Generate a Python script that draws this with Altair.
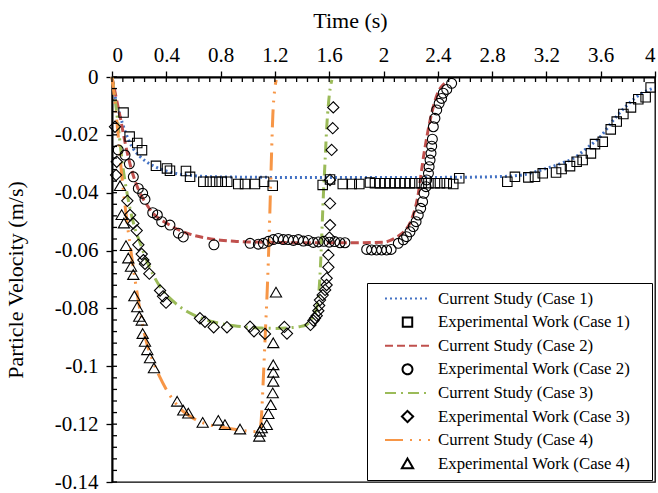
import altair as alt
import pandas as pd

names = [
    "Current Study (Case 1)", "Experimental Work (Case 1)",
    "Current Study (Case 2)", "Experimental Work (Case 2)",
    "Current Study (Case 3)", "Experimental Work (Case 3)",
    "Current Study (Case 4)", "Experimental Work (Case 4)",
]

# ---- Current study (simulation) curves ----
t_cs1 = [0, 0.02, 0.05, 0.1, 0.15, 0.2, 0.25, 0.3, 0.4, 0.5, 0.6, 0.7, 0.9, 1.2, 1.6, 2.0, 2.4,
         2.8, 3.0, 3.1, 3.2, 3.3, 3.4, 3.5, 3.6, 3.7, 3.8, 3.9, 4.0]
v_cs1 = [0, -0.006, -0.0118, -0.0192, -0.0243, -0.0272, -0.0292, -0.0306, -0.0325, -0.0336, -0.0341,
         -0.0344, -0.0346, -0.0347, -0.0347, -0.0347, -0.0347, -0.0345, -0.034, -0.033, -0.0316,
         -0.030, -0.0281, -0.0245, -0.0205, -0.0145, -0.0095, -0.0057, -0.0037]

t_cs2 = [0, 0.03, 0.06, 0.1, 0.15, 0.2, 0.25, 0.3, 0.4, 0.5, 0.6, 0.7, 0.8, 0.9, 1.0, 1.2, 1.5,
         1.8, 2.0, 2.05, 2.1, 2.15, 2.2, 2.25, 2.3, 2.35, 2.4, 2.45]
v_cs2 = [0, -0.007, -0.0138, -0.0235, -0.033, -0.0395, -0.0437, -0.047, -0.0505, -0.053, -0.0547,
         -0.0557, -0.0564, -0.0568, -0.057, -0.0572, -0.0573, -0.0573, -0.0571, -0.0565, -0.0552,
         -0.0535, -0.050, -0.042, -0.026, -0.0135, -0.0055, -0.0022]

t_cs3 = [0, 0.02, 0.04, 0.08, 0.12, 0.17, 0.2, 0.26, 0.35, 0.45, 0.55, 0.65, 0.75, 0.9, 1.0, 1.1,
         1.2, 1.3, 1.38, 1.43, 1.47, 1.5, 1.52, 1.535, 1.545, 1.557, 1.57, 1.582, 1.595, 1.607, 1.62]
v_cs3 = [0, -0.0065, -0.0145, -0.031, -0.0425, -0.0525, -0.0565, -0.064, -0.0722, -0.0775, -0.081,
         -0.0832, -0.0847, -0.086, -0.0865, -0.0868, -0.0869, -0.0867, -0.0863, -0.0857, -0.0838,
         -0.081, -0.0765, -0.066, -0.055, -0.041, -0.0287, -0.0172, -0.009, -0.004, -0.001]

t_cs4 = [0, 0.02, 0.045, 0.07, 0.1, 0.13, 0.16, 0.2, 0.25, 0.3, 0.35, 0.4, 0.5, 0.6, 0.7, 0.8, 0.9,
         1.0, 1.07, 1.09, 1.1, 1.115, 1.13, 1.145, 1.157, 1.167, 1.175, 1.185, 1.197, 1.21]
v_cs4 = [0, -0.008, -0.02, -0.033, -0.046, -0.057, -0.067, -0.079, -0.091, -0.098, -0.1035, -0.108,
         -0.1145, -0.118, -0.12, -0.121, -0.1218, -0.1224, -0.1226, -0.1222, -0.118, -0.104, -0.088,
         -0.072, -0.056, -0.04, -0.027, -0.013, -0.005, -0.001]

# ---- Experimental data ----
t_ex1 = [0.085, 0.13, 0.186, 0.221, 0.324, 0.405, 0.427, 0.545, 0.575, 0.673, 0.722, 0.766, 0.808,
         0.849, 0.93, 0.98, 1.053, 1.12, 1.184, 1.552, 1.606, 1.70, 1.766, 1.822, 1.90, 1.937, 1.974,
         2.011, 2.048, 2.085, 2.122, 2.158, 2.195, 2.232, 2.281, 2.331, 2.379, 2.416, 2.466, 2.514,
         2.558, 2.912, 2.968, 3.067, 3.116, 3.173, 3.271, 3.312, 3.374, 3.423, 3.467, 3.528, 3.558,
         3.615, 3.674, 3.718, 3.767, 3.823, 3.877, 3.931, 3.968]
v_ex1 = [-0.0123, -0.0206, -0.0228, -0.0253, -0.0307, -0.0316, -0.0324, -0.0325, -0.0345, -0.0362,
         -0.0362, -0.0362, -0.0362, -0.0362, -0.037, -0.037, -0.037, -0.0362, -0.0376, -0.0373,
         -0.0354, -0.037, -0.037, -0.037, -0.0365, -0.0367, -0.0367, -0.0367, -0.0367, -0.0367,
         -0.0367, -0.0367, -0.0367, -0.0367, -0.0367, -0.0367, -0.0367, -0.0367, -0.0367, -0.037,
         -0.035, -0.0362, -0.0345, -0.0347, -0.0345, -0.0333, -0.033, -0.0318, -0.0308, -0.0293,
         -0.0287, -0.0264, -0.0232, -0.0224, -0.0181, -0.0154, -0.0128, -0.0105, -0.0077, -0.007,
         -0.0036]

t_ex2 = [0.046, 0.096, 0.128, 0.157, 0.194, 0.226, 0.243, 0.30, 0.334, 0.366, 0.427, 0.489, 0.525,
         0.751, 1.017, 1.078, 1.115, 1.152, 1.188, 1.225, 1.262, 1.299, 1.336, 1.373, 1.41, 1.446,
         1.483, 1.52, 1.56, 1.6, 1.64, 1.68, 1.716, 1.876, 1.912, 1.949, 1.986, 2.023, 2.056, 2.109,
         2.146, 2.17, 2.195, 2.22, 2.24, 2.256, 2.274, 2.288, 2.298, 2.313, 2.318, 2.331, 2.336,
         2.343, 2.35, 2.355, 2.36, 2.367, 2.379, 2.392, 2.41, 2.428, 2.44, 2.466, 2.502]
v_ex2 = [-0.0252, -0.027, -0.030, -0.0345, -0.0385, -0.0402, -0.0423, -0.0469, -0.0477, -0.050,
         -0.0512, -0.054, -0.0553, -0.058, -0.0575, -0.0578, -0.0575, -0.0568, -0.0562, -0.0558,
         -0.0562, -0.0562, -0.0565, -0.0562, -0.0567, -0.0565, -0.0572, -0.057, -0.0568, -0.0571,
         -0.0569, -0.0573, -0.0573, -0.0596, -0.0598, -0.0598, -0.0598, -0.0598, -0.0596, -0.0575,
         -0.0563, -0.0552, -0.0535, -0.0517, -0.050, -0.0477, -0.0454, -0.0431, -0.0402, -0.0379,
         -0.0356, -0.0333, -0.031, -0.0287, -0.0264, -0.0239, -0.0215, -0.0172, -0.0143, -0.0114,
         -0.0091, -0.0074, -0.0056, -0.0043, -0.0022]

t_ex3 = [0.022, 0.035, 0.03, 0.113, 0.133, 0.157, 0.182, 0.194, 0.219, 0.231, 0.243, 0.275, 0.354,
         0.376, 0.398, 0.648, 0.685, 0.749, 0.847, 1.017, 1.046, 1.127, 1.27, 1.289, 1.462, 1.484,
         1.495, 1.508, 1.52, 1.526, 1.532, 1.552, 1.57, 1.581, 1.581, 1.594, 1.594, 1.601, 1.606,
         1.606, 1.606, 1.618, 1.626, 1.63]
v_ex3 = [-0.0172, -0.0293, -0.0339, -0.0428, -0.0477, -0.0506, -0.0531, -0.058, -0.0612, -0.0633,
         -0.0646, -0.068, -0.0738, -0.0758, -0.078, -0.0834, -0.0846, -0.0865, -0.0865, -0.0863,
         -0.0879, -0.0888, -0.0864, -0.0887, -0.0857, -0.0842, -0.0834, -0.0825, -0.0808, -0.079,
         -0.0771, -0.0754, -0.0736, -0.0719, -0.0696, -0.0658, -0.0615, -0.0555, -0.0512, -0.0437,
         -0.0356, -0.0252, -0.0177, -0.0105]

t_ex4 = [0.059, 0.071, 0.088, 0.103, 0.12, 0.14, 0.157, 0.165, 0.186, 0.201, 0.219, 0.226, 0.243,
         0.26, 0.28, 0.309, 0.48, 0.525, 0.562, 0.668, 0.783, 0.832, 0.943, 1.085, 1.09, 1.103, 1.14,
         1.152, 1.169, 1.184, 1.188, 1.188, 1.188, 1.188, 1.208]
v_ex4 = [-0.0377, -0.0477, -0.0506, -0.0584, -0.0627, -0.0656, -0.0684, -0.0758, -0.0796, -0.0829,
         -0.0842, -0.0888, -0.0915, -0.0944, -0.0972, -0.1007, -0.1122, -0.1153, -0.1163, -0.1195,
         -0.1188, -0.1203, -0.1218, -0.1243, -0.1226, -0.1214, -0.1203, -0.1165, -0.1134, -0.1093,
         -0.1053, -0.1022, -0.0996, -0.092, -0.0745]

x_ticks = [0, 0.4, 0.8, 1.2, 1.6, 2, 2.4, 2.8, 3.2, 3.6, 4]
y_ticks = [0, -0.02, -0.04, -0.06, -0.08, -0.1, -0.12, -0.14]

line_df = pd.concat([
    pd.DataFrame({"t": t, "v": v, "series": n})
    for t, v, n in [(t_cs1, v_cs1, names[0]), (t_cs2, v_cs2, names[2]),
                    (t_cs3, v_cs3, names[4]), (t_cs4, v_cs4, names[6])]
])
point_df = pd.concat([
    pd.DataFrame({"t": t, "v": v, "series": n})
    for t, v, n in [(t_ex1, v_ex1, names[1]), (t_ex2, v_ex2, names[3]),
                    (t_ex3, v_ex3, names[5]), (t_ex4, v_ex4, names[7])]
])

minor_x = pd.DataFrame({"t": [round(i * 0.08, 2) for i in range(51)]})
minor_y = pd.DataFrame({"v": [round(-i * 0.004, 3) for i in range(36)]})

colors = ["#4472C4", "black", "#C0504D", "black", "#9BBB59", "black", "#F79646", "black"]
LINE = "M-1,0H1"
SQUARE = "M-0.21,-0.21H0.21V0.21H-0.21Z"
CIRCLE = "M0.22,0A0.22,0.22,0,1,1,-0.22,0A0.22,0.22,0,1,1,0.22,0Z"
DIAMOND = "M0,-0.25L0.25,0L0,0.25L-0.25,0Z"
TRIANGLE = "M0,-0.23L0.25,0.2L-0.25,0.2Z"
shapes = [LINE, SQUARE, LINE, CIRCLE, LINE, DIAMOND, LINE, TRIANGLE]
dashes = [[2, 3], [1, 0], [8, 4], [1, 0], [11, 5, 2, 5], [1, 0], [18, 7, 2, 7, 2, 7], [1, 0]]

FONT = "Liberation Serif, Times New Roman, serif"
SYM = 2025

legend = alt.Legend(
    title=".", titleOrient="right", titlePadding=13, titleFontSize=6, titleColor="white",
    orient="none", legendX=255, legendY=206,
    labelFont=FONT, labelFontSize=16.8, labelColor="black",
    strokeColor="black", fillColor="white", padding=7, rowPadding=5.6, clipHeight=17,
    symbolSize=SYM, symbolOffset=10, labelOffset=7, labelLimit=400,
    symbolFillColor="transparent", symbolStrokeWidth=2,
)

xscale = alt.Scale(domain=[0, 4], nice=False, zero=False)
yscale = alt.Scale(domain=[-0.14, 0], nice=False, zero=False)

xaxis = alt.Axis(orient="top", values=x_ticks, title="Time (s)", format=".2~f",
                 labelPadding=6, titleX=238, titleY=-50, titleBaseline="alphabetic")
yaxis = alt.Axis(values=y_ticks, title="Particle Velocity (m/s)",
                 labelExpr="replace(format(datum.value, '.2~f'), '\u2212', '-')",
                 labelPadding=8, titleX=-90, titleBaseline="alphabetic")

color = alt.Color("series:N", scale=alt.Scale(domain=names, range=colors), legend=legend)

X = alt.X("t:Q", scale=xscale, axis=xaxis)
Y = alt.Y("v:Q", scale=yscale, axis=yaxis)

lines = alt.Chart(line_df).mark_line(interpolate="monotone", strokeWidth=3).encode(
    x=X, y=Y,
    color=color,
    strokeDash=alt.StrokeDash("series:N", scale=alt.Scale(domain=names, range=dashes), legend=legend),
    detail="series:N",
)

points = alt.Chart(point_df).mark_point(filled=False, size=SYM, opacity=1, strokeWidth=1.1).encode(
    x=X, y=Y,
    color=color,
    shape=alt.Shape("series:N", scale=alt.Scale(domain=names, range=shapes), legend=legend),
)

xt = alt.Chart(minor_x).mark_rule(color="black", strokeWidth=1.3).encode(
    x=X, y=alt.value(0), y2=alt.value(5),
)
yt = alt.Chart(minor_y).mark_rule(color="black", strokeWidth=1.3).encode(
    y=Y, x=alt.value(0), x2=alt.value(5),
)

chart = alt.layer(lines, points, xt, yt).properties(
    width=543, height=405,
    padding={"left": 112, "top": 77, "right": 3, "bottom": 11},
    autosize=alt.AutoSizeParams(type="none"),
).configure_view(
    stroke="black", strokeWidth=1.3,
).configure_axis(
    domainColor="black", domainWidth=2, tickColor="black", tickWidth=1.3, tickSize=6,
    labelFont=FONT, labelFontSize=21, labelColor="black",
    titleFont=FONT, titleFontSize=22, titleFontWeight="normal", titleColor="black",
    grid=False,
)

chart.save("out.html", embed_options={"renderer": "svg", "actions": False})
